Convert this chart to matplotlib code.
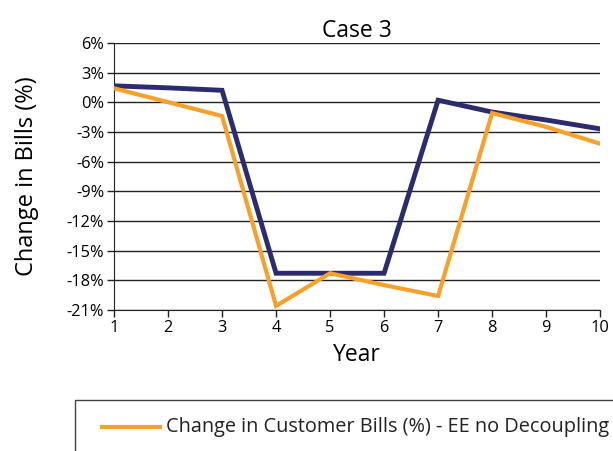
import matplotlib.pyplot as plt
from matplotlib.patches import Rectangle
from matplotlib.lines import Line2D
from matplotlib.ticker import FuncFormatter

plt.rcParams['font.family'] = ['Open Sans', 'DejaVu Sans']

years = [1, 2, 3, 4, 5, 6, 7, 8, 9, 10]
with_decoupling = [1.65, 1.45, 1.2, -17.3, -17.3, -17.3, 0.2, -1.0, -1.8, -2.7]
no_decoupling = [1.4, 0.0, -1.4, -20.6, -17.3, -18.5, -19.6, -1.1, -2.5, -4.2]
yticks = list(range(-21, 7, 3))

navy = "#2b2b6f"
orange = "#f7a12b"

fig = plt.figure(figsize=(6.13, 4.51), dpi=100)
ax = fig.add_axes([0.186, 0.313, 0.793, 0.592])

ax.plot(years, with_decoupling, color=navy, lw=3.5, solid_joinstyle="miter", zorder=3)
ax.plot(years, no_decoupling, color=orange, lw=3.0, solid_joinstyle="miter", zorder=4)

ax.set_xlim(1, 10)
ax.set_ylim(-21, 6)
ax.set_xticks(years)
ax.set_yticks(yticks)
ax.yaxis.set_major_formatter(FuncFormatter(lambda v, p: f"{int(v)}%"))
ax.grid(axis="y", color="#222222", lw=1.0)
ax.set_axisbelow(True)
for s in ["top", "right"]:
    ax.spines[s].set_visible(False)
ax.spines["left"].set_color("#222222")
ax.spines["bottom"].set_color("#222222")
ax.tick_params(axis="both", labelsize=11.8, color="#222222", length=5, width=1, pad=2)

ax.set_title("Case 3", fontsize=16.5, pad=3)
ax.set_xlabel("Year", fontsize=16.5, labelpad=5)
ax.set_ylabel("Change in Bills (%)", fontsize=17, labelpad=20)

# legend box (cut off at the figure edge like the source)
fig.add_artist(Rectangle((75 / 613, -0.2), 0.9, 1 - 400 / 451 + 0.2,
                         transform=fig.transFigure, fill=False,
                         edgecolor="#444444", lw=1.0))
fig.add_artist(Line2D([102 / 613, 160 / 613], [1 - 427 / 451] * 2,
                      transform=fig.transFigure, color=orange, lw=3))
fig.text(166 / 613, 1 - 427 / 451, "Change in Customer Bills (%) - EE no Decoupling",
         fontsize=14.3, va="center", ha="left", color="#222222")

fig.savefig("out.png", dpi=100)
